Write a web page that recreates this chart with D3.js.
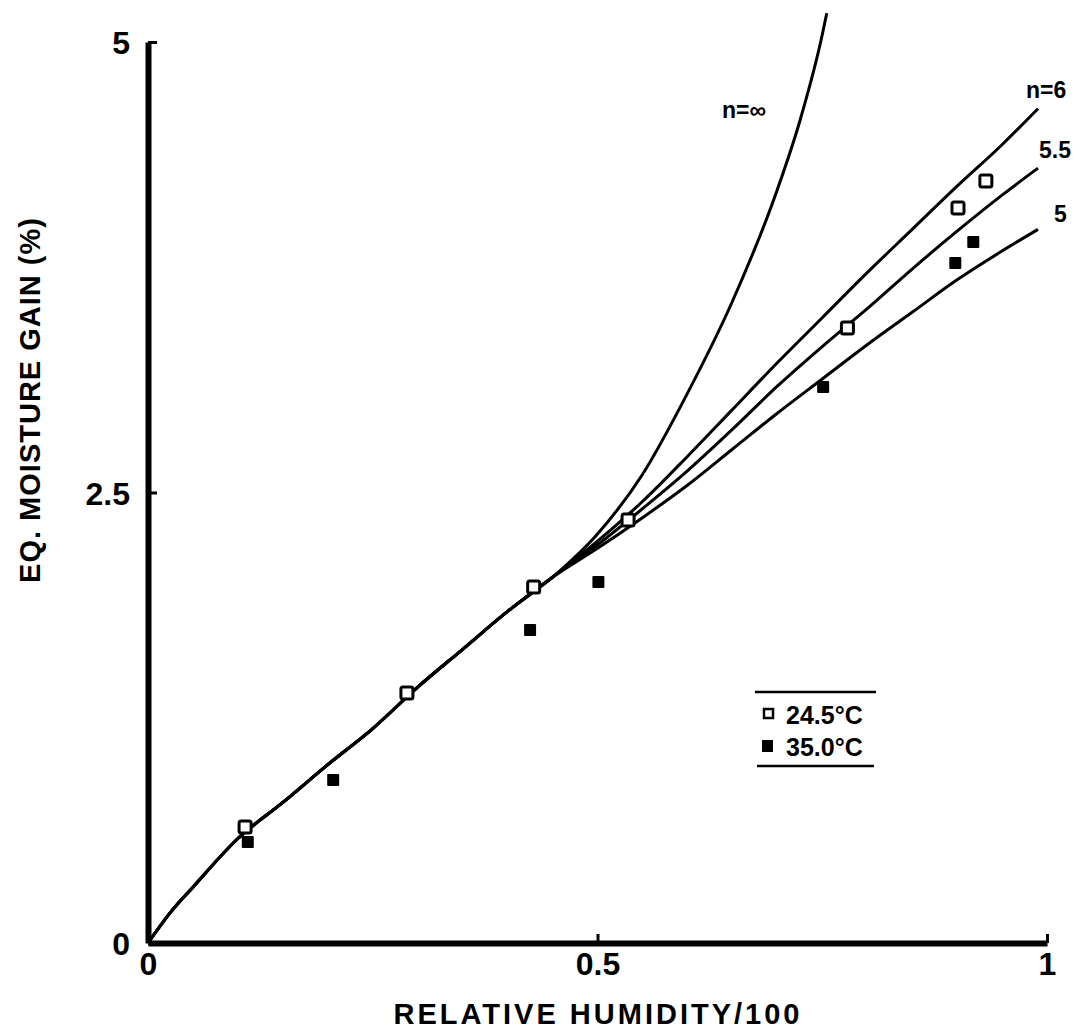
<!DOCTYPE html>
<html>
<head>
<meta charset="utf-8">
<script src="https://cdn.jsdelivr.net/npm/d3@7"></script>
<style>
  body { margin: 0; background: #fff; }
  text { font-family: "Liberation Sans", Arial, sans-serif; font-weight: bold; fill: #000; }
</style>
</head>
<body>
<script>
// chart size
var width = 1082;
var height = 1033;

// ticks
var xTicks = [0, 0.5, 1];
var xTickLabels = ["0", "0.5", "1"];
var yTicks = [0, 2.5, 5];
var yTickLabels = ["0", "2.5", "5"];

// shared low-humidity part of all model curves
var baseRH   = [0, 0.025, 0.05, 0.1, 0.15, 0.2, 0.25, 0.3, 0.35, 0.4, 0.45];
var baseGain = [0, 0.17, 0.31, 0.58, 0.78, 0.99, 1.19, 1.42, 1.63, 1.84, 2.03];

// curve continuations
var infRH   = [0.5, 0.55, 0.6, 0.65, 0.7, 0.725, 0.75, 0.755];
var infGain = [2.27, 2.60, 3.05, 3.56, 4.18, 4.56, 5.04, 5.16];
var fanRH    = [0.5, 0.55, 0.6, 0.65, 0.7, 0.75, 0.8, 0.85, 0.9, 0.95, 0.99];
var n6Gain   = [2.23, 2.45, 2.70, 2.96, 3.22, 3.47, 3.72, 3.96, 4.20, 4.43, 4.63];
var n55Gain  = [2.21, 2.41, 2.62, 2.85, 3.09, 3.31, 3.52, 3.74, 3.95, 4.15, 4.30];
var n5Gain   = [2.19, 2.36, 2.54, 2.74, 2.94, 3.13, 3.32, 3.50, 3.68, 3.84, 3.96];

// measured points
var rh245   = [0.108, 0.288, 0.429, 0.534, 0.778, 0.901, 0.932];
var gain245 = [0.644, 1.387, 1.976, 2.347, 3.413, 4.079, 4.229];
var rh350   = [0.111, 0.206, 0.425, 0.501, 0.751, 0.898, 0.918];
var gain350 = [0.560, 0.905, 1.737, 2.003, 3.085, 3.774, 3.890];

var x = d3.scaleLinear().domain([0, 1]).range([148, 1047]);
var y = d3.scaleLinear().domain([0, 5]).range([943, 42]);

var svg = d3.select("body").append("svg")
  .attr("width", width)
  .attr("height", height);

function pts(xs, ys) {
  return xs.map(function(v, i) { return [v, ys[i]]; });
}
var base = pts(baseRH, baseGain);
var curves = [
  base.concat(pts(infRH, infGain)),
  base.concat(pts(fanRH, n6Gain)),
  base.concat(pts(fanRH, n55Gain)),
  base.concat(pts(fanRH, n5Gain))
];

var line = d3.line()
  .x(d => x(d[0]))
  .y(d => y(d[1]))
  .curve(d3.curveMonotoneX);

svg.selectAll("path.curve")
  .data(curves)
  .enter()
  .append("path")
  .attr("class", "curve")
  .attr("d", line)
  .attr("fill", "none")
  .attr("stroke", "#000")
  .attr("stroke-width", 3);

// axes
var xAxis = d3.axisBottom(x)
  .tickValues(xTicks)
  .tickFormat((d, i) => xTickLabels[i])
  .tickSize(-9)
  .tickSizeOuter(0)
  .tickPadding(8);
var yAxis = d3.axisLeft(y)
  .tickValues(yTicks)
  .tickFormat((d, i) => yTickLabels[i])
  .tickSize(-9)
  .tickSizeOuter(0)
  .tickPadding(18);

var gx = svg.append("g").attr("transform", "translate(0,943)").call(xAxis);
var gy = svg.append("g").attr("transform", "translate(148,0)").call(yAxis);
[gx, gy].forEach(function(g) {
  g.select(".domain").attr("stroke", "#000").attr("stroke-width", 6);
  g.selectAll(".tick line").attr("stroke", "#000").attr("stroke-width", 3);
  g.selectAll(".tick text")
    .style("font-family", "'Liberation Sans', Arial, sans-serif")
    .style("font-weight", "bold")
    .style("font-size", "32px")
    .attr("fill", "#000");
});
gx.selectAll(".tick text").attr("dy", "0.75em");
gy.selectAll(".tick text").attr("dy", "0.36em");

// axis titles
svg.append("text")
  .attr("x", 598)
  .attr("y", 1024)
  .attr("text-anchor", "middle")
  .style("font-size", "29px")
  .style("letter-spacing", "3px")
  .text("RELATIVE HUMIDITY/100");

svg.append("text")
  .attr("transform", "translate(40,400) rotate(-90)")
  .attr("text-anchor", "middle")
  .style("font-size", "29px")
  .style("letter-spacing", "1px")
  .text("EQ. MOISTURE GAIN (%)");

// data squares
var sq = 12;
svg.selectAll("rect.open")
  .data(pts(rh245, gain245))
  .enter()
  .append("rect")
  .attr("class", "open")
  .attr("x", d => x(d[0]) - sq / 2)
  .attr("y", d => y(d[1]) - sq / 2)
  .attr("width", sq)
  .attr("height", sq)
  .attr("rx", 2)
  .attr("fill", "#fff")
  .attr("stroke", "#000")
  .attr("stroke-width", 3);

svg.selectAll("rect.filled")
  .data(pts(rh350, gain350))
  .enter()
  .append("rect")
  .attr("class", "filled")
  .attr("x", d => x(d[0]) - sq / 2)
  .attr("y", d => y(d[1]) - sq / 2)
  .attr("width", sq)
  .attr("height", sq)
  .attr("rx", 1)
  .attr("fill", "#000");

// curve labels
var curveLabels = [
  { t: "n=\u221e", x: 722, y: 118 },
  { t: "n=6", x: 1026, y: 98 },
  { t: "5.5", x: 1039, y: 158 },
  { t: "5", x: 1054, y: 222 }
];
svg.selectAll("text.clabel")
  .data(curveLabels)
  .enter()
  .append("text")
  .attr("class", "clabel")
  .attr("x", d => d.x)
  .attr("y", d => d.y)
  .style("font-size", "23px")
  .text(d => d.t);

// legend
var legend = svg.append("g");
legend.append("line").attr("x1", 755).attr("x2", 876).attr("y1", 692).attr("y2", 692)
  .attr("stroke", "#000").attr("stroke-width", 2.5);
legend.append("line").attr("x1", 757).attr("x2", 874).attr("y1", 766).attr("y2", 766)
  .attr("stroke", "#000").attr("stroke-width", 2.5);
legend.append("rect").attr("x", 764).attr("y", 709).attr("width", 9).attr("height", 9)
  .attr("fill", "#fff").attr("stroke", "#000").attr("stroke-width", 2.5);
legend.append("rect").attr("x", 762).attr("y", 740).attr("width", 11).attr("height", 12)
  .attr("fill", "#000");
legend.append("text").attr("x", 786).attr("y", 724).style("font-size", "25px").text("24.5\u00b0C");
legend.append("text").attr("x", 786).attr("y", 756).style("font-size", "25px").text("35.0\u00b0C");
</script>
</body>
</html>
